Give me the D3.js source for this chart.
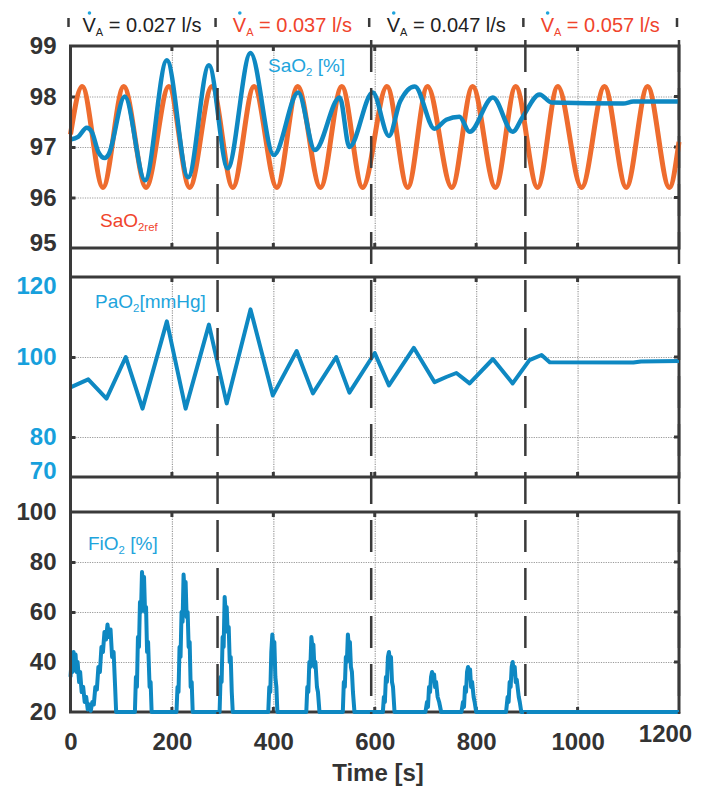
<!DOCTYPE html>
<html>
<head>
<meta charset="utf-8">
<script src="https://cdn.jsdelivr.net/npm/d3@7"></script>
<style>
  body { margin: 0; background: #fff; }
  svg { font-family: "Liberation Sans", Arial, sans-serif; }
  .grid line { stroke: #9a9a9a; stroke-width: 1.2; stroke-dasharray: 1.2,1.2; }
  .grid path { display: none; }
  .yaxis path, .xaxis path { display: none; }
  .yaxis line { stroke: #3a3a3a; stroke-width: 3; }
  .xaxis line { display: none; }
  .yaxis text, .xaxis text { font-weight: bold; font-size: 24px; }
</style>
</head>
<body>
<svg width="701" height="790"></svg>
<script>
// Values
const
  TIME_TICKS = [0, 200, 400, 600, 800, 1000, 1200],
  PHASE_TIMES = [0, 290, 593, 897, 1200],
  PHASE_FLOWS = ["0.027", "0.037", "0.047", "0.057"],
  SAO2_TICKS = [95, 96, 97, 98, 99],
  PAO2_TICKS = [70, 80, 100, 120],
  FIO2_TICKS = [20, 40, 60, 80, 100];

// SaO2 reference (orange), [time, %]
const SAO2_REF = [
  [0, 97.25], [23, 98.2], [64, 96.2], [105, 98.2], [149, 96.2], [194, 98.2], [235, 96.2],
  [279, 98.2], [320, 96.2], [362, 98.2], [407, 96.2], [448, 98.2], [493, 96.2], [535, 98.2],
  [576, 96.2], [624, 98.2], [665, 96.2], [704, 98.2], [752, 96.2], [793, 98.2], [838, 96.2],
  [878, 98.2], [921, 96.2], [961, 98.2], [1008, 96.2], [1053, 98.2], [1096, 96.2],
  [1138, 98.2], [1181, 96.2], [1200, 97.1]
];
// SaO2 measured (blue), [time, %]
const SAO2 = [
  [0, 97.15], [15, 97.2], [32, 97.38], [42, 97.3], [55, 96.9], [68, 96.78], [75, 96.85],
  [107, 98.0], [147, 96.34], [190, 98.72], [232, 96.4], [273, 98.62], [310, 96.58],
  [355, 98.86], [401, 96.84], [449, 98.08], [482, 96.94], [531, 97.98], [550, 97.0],
  [596, 98.08], [628, 97.22], [650, 97.9], [679, 98.2], [718, 97.36], [741, 97.54],
  [767, 97.6], [787, 97.3], [833, 97.98], [872, 97.3], [892, 97.6], [925, 98.04],
  [949, 97.88], [1090, 97.86], [1110, 97.9], [1200, 97.9]
];
// PaO2 (mmHg)
const PAO2 = [
  [0, 92.4], [35, 94.4], [71, 89.6], [109, 100], [142, 87.1], [190, 108.9], [227, 87.1],
  [273, 108.1], [308, 88.4], [355, 111.9], [399, 90.4], [446, 101.5], [478, 90.9],
  [524, 100], [550, 91.1], [600, 101], [628, 92.9], [677, 102.3], [718, 93.7], [741, 95],
  [761, 96], [787, 93.4], [833, 99.5], [872, 93.4], [905, 99.2], [929, 100.5], [945, 98.7],
  [1110, 98.6], [1125, 98.9], [1200, 99]
];
// FiO2 (%), noisy bursts
const FIO2 = [
  [0, 34], [2, 40], [4, 36], [6, 44], [8, 38], [10, 43], [12, 36], [14, 40], [17, 32], [19, 36],
  [22, 28], [25, 30], [28, 24], [31, 26], [34, 21], [37, 23], [40, 20.5], [43, 24], [46, 23],
  [49, 30], [52, 29], [55, 38], [58, 36], [61, 46], [64, 44], [67, 52], [70, 49], [73, 55],
  [76, 50], [79, 53], [82, 42], [85, 44], [88, 30], [90, 20],
  [127, 20], [129, 34], [131, 30], [133, 50], [135, 46], [137, 64], [139, 60], [141, 76],
  [143, 70], [145, 74], [147, 60], [149, 62], [151, 44], [153, 48], [156, 30], [158, 32], [160, 20],
  [209, 20], [211, 30], [213, 28], [215, 46], [217, 42], [219, 60], [221, 56], [223, 75],
  [225, 68], [227, 72], [229, 58], [231, 60], [233, 46], [235, 48], [237, 30], [239, 32], [241, 20],
  [294, 20], [296, 34], [298, 32], [300, 50], [302, 46], [304, 66], [306, 60], [308, 62],
  [310, 52], [312, 54], [314, 40], [316, 42], [318, 28], [320, 20],
  [390, 20], [392, 30], [394, 28], [396, 44], [398, 51], [400, 46], [402, 48], [404, 34],
  [406, 30], [408, 20],
  [465, 20], [467, 30], [469, 28], [471, 40], [473, 38], [475, 50], [477, 46], [479, 47],
  [481, 38], [483, 40], [486, 30], [488, 28], [491, 20],
  [537, 20], [539, 32], [541, 30], [543, 42], [545, 40], [547, 51], [549, 46], [551, 48],
  [553, 38], [555, 36], [557, 28], [560, 20],
  [616, 20], [618, 26], [620, 24], [622, 34], [624, 32], [626, 42], [628, 44], [630, 40],
  [632, 42], [634, 32], [636, 30], [639, 20],
  [700, 20], [703, 24], [705, 22], [707, 30], [709, 28], [711, 34], [713, 36], [715, 33],
  [717, 35], [719, 30], [721, 32], [724, 26], [727, 24], [731, 20],
  [771, 20], [774, 24], [776, 22], [778, 30], [780, 28], [782, 36], [784, 38], [786, 35],
  [788, 37], [790, 30], [792, 32], [795, 26], [797, 24], [800, 20],
  [859, 20], [862, 26], [864, 24], [866, 32], [868, 30], [870, 38], [872, 40], [874, 36],
  [876, 38], [878, 32], [880, 33], [884, 26], [886, 24], [889, 20], [1200, 20]
];

// Layout
const
  INK = "#3a3a3a",
  BLUE_LINE = "#0e88c2",
  BLUE_TEXT = "#1ea4dc",
  ORANGE_LINE = "#ee6c2e",
  RED_TEXT = "#f0442c",
  LABEL_NUDGE = { 95: -5, 120: 9, 70: -6 },
  svg = d3.select("svg"),
  x = d3.scaleLinear().domain([0, 1200]).range([70.5, 679]);

const PANELS = [
  { top: 46, bottom: 248, domain: [95, 99], ticks: SAO2_TICKS, grid: [96, 97, 98], color: "#333" },
  { top: 277, bottom: 477, domain: [70, 120], ticks: PAO2_TICKS, grid: [80, 100], color: "#17a0dc" },
  { top: 512, bottom: 712, domain: [20, 100], ticks: FIO2_TICKS, grid: [40, 60, 80], color: "#333" }
];
PANELS.forEach(p => p.y = d3.scaleLinear().domain(p.domain).range([p.bottom, p.top]));

const [x0, x1] = x.range();
const innerTimes = TIME_TICKS.slice(1, -1);

// Panels: grid, small inner ticks, frame, y labels
PANELS.forEach(function(p) {
  const g = svg.append("g");
  g.append("g").attr("class", "grid")
    .attr("transform", `translate(0,${p.bottom})`)
    .call(d3.axisBottom(x).tickValues(innerTimes).tickSize(-(p.bottom - p.top)).tickFormat(""));
  g.append("g").attr("class", "grid")
    .attr("transform", `translate(${x0},0)`)
    .call(d3.axisLeft(p.y).tickValues(p.grid).tickSize(-(x1 - x0)).tickFormat(""));

  // short dark ticks on the sides
  const marks = [];
  innerTimes.forEach(t => {
    marks.push([x(t), p.top, x(t), p.top + 5]);
    marks.push([x(t), p.bottom, x(t), p.bottom - 5]);
  });
  p.grid.forEach(v => marks.push([x1, p.y(v), x1 - 5, p.y(v)]));
  g.selectAll("line.mark").data(marks).enter().append("line")
    .attr("x1", d => d[0]).attr("y1", d => d[1]).attr("x2", d => d[2]).attr("y2", d => d[3])
    .attr("stroke", INK).attr("stroke-width", 3);

  g.append("rect")
    .attr("x", x0).attr("y", p.top)
    .attr("width", x1 - x0).attr("height", p.bottom - p.top)
    .attr("fill", "none").attr("stroke", INK).attr("stroke-width", 3);

  g.append("g").attr("class", "yaxis")
    .attr("transform", `translate(${x0},0)`)
    .call(d3.axisLeft(p.y).tickValues(p.ticks).tickSize(-5).tickPadding(14).tickFormat(d3.format("d")))
    .call(a => a.selectAll("text")
      .attr("fill", p.color)
      .attr("y", d => LABEL_NUDGE[d] || 0))
    .call(a => a.selectAll("line").filter(d => d === p.domain[0] || d === p.domain[1]).remove());
});

// X axis labels (the last one sits a little higher and further left in the figure)
svg.append("g").attr("class", "xaxis")
  .attr("transform", `translate(0,${PANELS[2].bottom})`)
  .call(d3.axisBottom(x).tickValues(TIME_TICKS).tickSize(0).tickPadding(21).tickFormat(d3.format("d")))
  .call(a => a.selectAll("text").attr("fill", "#333"))
  .call(a => a.selectAll("text").filter(d => d === 1200).attr("dx", -14).attr("y", 13));

svg.append("text")
  .attr("x", 378).attr("y", 781)
  .attr("text-anchor", "middle")
  .attr("font-weight", "bold").attr("font-size", 24).attr("fill", "#333")
  .text("Time [s]");

// Data lines
function drawLine(panel, data, color, width, curve) {
  svg.append("path")
    .datum(data)
    .attr("fill", "none")
    .attr("stroke", color)
    .attr("stroke-width", width)
    .attr("stroke-linejoin", "round")
    .attr("d", d3.line().curve(curve).x(d => x(d[0])).y(d => panel.y(d[1])));
}
drawLine(PANELS[0], SAO2_REF, ORANGE_LINE, 5, d3.curveMonotoneX);
drawLine(PANELS[0], SAO2, BLUE_LINE, 4.5, d3.curveMonotoneX);
drawLine(PANELS[1], PAO2, BLUE_LINE, 4, d3.curveLinear);
drawLine(PANELS[2], FIO2, BLUE_LINE, 4, d3.curveLinear);

// Left axis line running through all panels
svg.append("line")
  .attr("x1", x0).attr("x2", x0)
  .attr("y1", PANELS[0].top).attr("y2", PANELS[2].bottom + 1)
  .attr("stroke", INK).attr("stroke-width", 3);

// Phase boundaries: dashed verticals and header marks
svg.selectAll("line.phase")
  .data(PHASE_TIMES.slice(1)).enter().append("line")
  .attr("x1", d => x(d)).attr("x2", d => x(d))
  .attr("y1", 40).attr("y2", PANELS[2].bottom + 2)
  .attr("stroke", INK).attr("stroke-width", 2.5)
  .attr("stroke-dasharray", "32,16");

svg.selectAll("line.head")
  .data(PHASE_TIMES).enter().append("line")
  .attr("x1", d => x(d) - 2).attr("x2", d => x(d) - 2)
  .attr("y1", 18).attr("y2", 27)
  .attr("stroke", INK).attr("stroke-width", 2.5);

// Header labels  V̇A = ... l/s
const heads = svg.selectAll("g.head")
  .data(PHASE_FLOWS).enter().append("g")
  .attr("transform", (d, i) => `translate(${(x(PHASE_TIMES[i]) + x(PHASE_TIMES[i + 1])) / 2 - 2},32)`);

heads.append("text")
  .attr("text-anchor", "middle")
  .attr("font-size", 20)
  .attr("fill", (d, i) => i % 2 ? RED_TEXT : "#222")
  .call(function(t) {
    t.append("tspan").text("V");
    t.append("tspan").attr("font-size", 11).attr("dy", 4).text("A");
    t.append("tspan").attr("dy", -4).text(d => ` = ${d} l/s`);
  })
  .each(function() {
    const v = this.firstChild.getBBox();
    d3.select(this.parentNode).append("circle")
      .attr("cx", v.x + v.width / 2).attr("cy", -19).attr("r", 1.8)
      .attr("fill", BLUE_TEXT);
  });

// In-plot series labels
function label(xp, yp, color, main, sub, tail, size) {
  const t = svg.append("text").attr("x", xp).attr("y", yp)
    .attr("font-size", size).attr("fill", color);
  t.append("tspan").text(main);
  t.append("tspan").attr("font-size", size * 0.6).attr("dy", 4).text(sub);
  if (tail) t.append("tspan").attr("dy", -4).text(tail);
}
label(268, 72, BLUE_TEXT, "SaO", "2", " [%]", 19);
label(100, 227, RED_TEXT, "SaO", "2ref", null, 19);
label(95, 308, BLUE_TEXT, "PaO", "2", "[mmHg]", 19);
label(88, 550, BLUE_TEXT, "FiO", "2", " [%]", 19);
</script>
</body>
</html>
